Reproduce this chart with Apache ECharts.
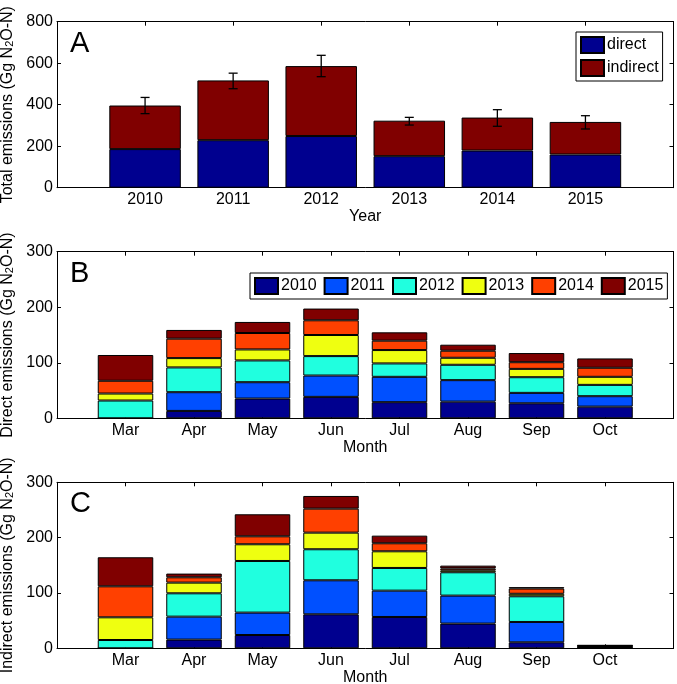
<!DOCTYPE html>
<html>
<head>
<meta charset="utf-8">
<script src="https://cdn.jsdelivr.net/npm/echarts@6/dist/echarts.min.js"></script>
<style>html,body{margin:0;padding:0;background:#fff;}#c{width:677px;height:684px;}</style>
</head>
<body>
<div id="c"></div>
<script>
// ---- Panel A data ----
const yearCats = ['2010', '2011', '2012', '2013', '2014', '2015'];
const totalDirect = [186, 229, 249, 152, 179, 160];
const totalIndirect = [210, 288, 337, 171, 159, 157];
const errLow = [357, 477, 535, 302, 296, 283];
const errHigh = [435, 552, 638, 339, 376, 347];
const yTicksA = [0, 200, 400, 600, 800];

// ---- Panel B/C data ----
const months = ['Mar', 'Apr', 'May', 'Jun', 'Jul', 'Aug', 'Sep', 'Oct'];
const seriesYears = ['2010', '2011', '2012', '2013', '2014', '2015'];
const direct2010 = [0, 13.3, 35.5, 38.6, 29, 30, 27, 21];
const direct2011 = [0, 33.7, 29.5, 38.4, 45.7, 38.7, 18.8, 18.8];
const direct2012 = [32, 44.6, 39.2, 35, 24.1, 27.7, 28.2, 20.4];
const direct2013 = [12.6, 16.8, 19.8, 38, 24.1, 12.6, 15, 14.5];
const direct2014 = [23, 35, 29.6, 26.5, 16.9, 12.7, 12, 16.3];
const direct2015 = [46.4, 15.7, 19.9, 21.1, 15, 10.8, 16.5, 16.8];
const indirect2010 = [0, 15.7, 24, 61.4, 56.6, 44.6, 10.8, 1];
const indirect2011 = [0, 41.5, 40.5, 61.5, 47.6, 50.6, 36.8, 1];
const indirect2012 = [15, 42.2, 93.3, 56.1, 41, 42.2, 46.4, 1];
const indirect2013 = [41, 19.3, 30.2, 30, 30.1, 3.5, 4.5, 1];
const indirect2014 = [56, 9.6, 14.4, 43.4, 14.5, 3.5, 9.5, 1];
const indirect2015 = [52.5, 6.7, 39.8, 22.9, 13.8, 5, 2.5, 0.5];
const yTicksBC = [0, 100, 200, 300];

const directByYear = [direct2010, direct2011, direct2012, direct2013, direct2014, direct2015];
const indirectByYear = [indirect2010, indirect2011, indirect2012, indirect2013, indirect2014, indirect2015];

const yearColors = ['#00008f', '#0050ff', '#20ffdf', '#efff10', '#ff4000', '#800000'];
const FONT = 'Liberation Sans, Arial, Helvetica, sans-serif';

// padded category lists: one empty slot at each end so the axis spans n+1 units
const catsA = [' '].concat(yearCats, ['  ']);
const catsM = [' '].concat(months, ['  ']);
const pad = arr => [null].concat(arr, [null]);

const chart = echarts.init(document.getElementById('c'), null, {renderer: 'canvas'});

const gridBase = {left: 57, right: 3.5, containLabel: false, outerBoundsMode: 'none'};
const grids = [
  Object.assign({top: 21.7, height: 166}, gridBase),
  Object.assign({top: 251.7, height: 166.6}, gridBase),
  Object.assign({top: 482.3, height: 166}, gridBase)
];

function xAx(gi, cats, pos, name) {
  return {
    type: 'category', gridIndex: gi, position: pos, data: cats, boundaryGap: false,
    axisLine: {show: true, onZero: false, lineStyle: {color: '#000', width: 1}},
    axisTick: {show: true, inside: true, length: 4, interval: 0, lineStyle: {color: '#000'}},
    axisLabel: {show: pos === 'bottom', interval: 0, color: '#000', fontSize: 16, fontFamily: FONT, margin: 4},
    splitLine: {show: false},
    name: pos === 'bottom' ? name : '',
    nameLocation: 'middle', nameGap: 20,
    nameTextStyle: {color: '#000', fontSize: 16, fontFamily: FONT}
  };
}
function yAx(gi, ticks, pos, name) {
  return {
    type: 'value', gridIndex: gi, position: pos, min: ticks[0], max: ticks[ticks.length - 1],
    interval: ticks[1] - ticks[0],
    axisLine: {show: true, lineStyle: {color: '#000', width: 1}},
    axisTick: {show: true, inside: true, length: 4, lineStyle: {color: '#000'}},
    axisLabel: {show: pos === 'left', color: '#000', fontSize: 16, fontFamily: FONT, margin: 4},
    splitLine: {show: false},
    name: pos === 'left' ? name : '',
    nameLocation: 'middle', nameGap: 38, nameRotate: 90,
    nameTextStyle: {
      color: '#000', fontFamily: FONT,
      rich: {
        a: {fontSize: 16, fontFamily: FONT, color: '#000'},
        s: {fontSize: 11, fontFamily: FONT, color: '#000', verticalAlign: 'bottom', lineHeight: 11, padding: [9, 0, 0, 0]}
      }
    }
  };
}

const xAxes = [
  xAx(0, catsA, 'bottom', 'Year'),
  xAx(0, catsA, 'top', ''),
  xAx(1, catsM, 'bottom', 'Month'),
  xAx(1, catsM, 'top', ''),
  xAx(2, catsM, 'bottom', 'Month'),
  xAx(2, catsM, 'top', '')
];
const yAxes = [
  yAx(0, yTicksA, 'left', '{a|Total emissions (Gg N}{s|2}{a|O-N)}'),
  yAx(0, yTicksA, 'right', ''),
  yAx(1, yTicksBC, 'left', '{a|Direct emissions (Gg N}{s|2}{a|O-N)}'),
  yAx(1, yTicksBC, 'right', ''),
  yAx(2, yTicksBC, 'left', '{a|Indirect emissions (Gg N}{s|2}{a|O-N)}'),
  yAx(2, yTicksBC, 'right', '')
];

const series = [];
series.push({
  name: 'direct', type: 'bar', xAxisIndex: 0, yAxisIndex: 0, stack: 'A', barWidth: 71.5,
  itemStyle: {color: '#00008f', borderColor: '#000', borderWidth: 1},
  data: pad(totalDirect)
});
series.push({
  name: 'indirect', type: 'bar', xAxisIndex: 0, yAxisIndex: 0, stack: 'A', barWidth: 71.5,
  itemStyle: {color: '#800000', borderColor: '#000', borderWidth: 1},
  data: pad(totalIndirect)
});
series.push({
  name: 'err', type: 'custom', xAxisIndex: 0, yAxisIndex: 0, z: 10,
  encode: {x: 0, y: [1, 2]},
  data: yearCats.map((y, i) => [i + 1, errLow[i], errHigh[i]]),
  renderItem: function (params, api) {
    const x = api.value(0);
    const p1 = api.coord([x, api.value(1)]);
    const p2 = api.coord([x, api.value(2)]);
    const hw = 4.5;
    const st = {stroke: '#000', lineWidth: 1.3};
    return {type: 'group', children: [
      {type: 'line', shape: {x1: p1[0], y1: p1[1], x2: p2[0], y2: p2[1]}, style: st},
      {type: 'line', shape: {x1: p1[0] - hw, y1: p1[1], x2: p1[0] + hw, y2: p1[1]}, style: st},
      {type: 'line', shape: {x1: p2[0] - hw, y1: p2[1], x2: p2[0] + hw, y2: p2[1]}, style: st}
    ]};
  }
});
seriesYears.forEach((yr, k) => {
  series.push({
    name: yr, type: 'bar', xAxisIndex: 2, yAxisIndex: 2, stack: 'B', barWidth: 55.5,
    itemStyle: {color: yearColors[k], borderColor: '#000', borderWidth: 1},
    data: pad(directByYear[k])
  });
});
seriesYears.forEach((yr, k) => {
  series.push({
    name: yr, type: 'bar', xAxisIndex: 4, yAxisIndex: 4, stack: 'C', barWidth: 55.5,
    itemStyle: {color: yearColors[k], borderColor: '#000', borderWidth: 1},
    data: pad(indirectByYear[k])
  });
});

const legendText = {color: '#000', fontSize: 16, fontFamily: FONT, padding: [0, 0, 0, -2]};
const option = {
  animation: false,
  backgroundColor: '#fff',
  grid: grids,
  xAxis: xAxes,
  yAxis: yAxes,
  legend: [
    {
      data: ['direct', 'indirect'], orient: 'vertical', left: 576, top: 32,
      itemWidth: 23, itemHeight: 16, itemGap: 5, padding: [4, 4, 4, 4],
      borderColor: '#000', borderWidth: 1, selectedMode: false, icon: 'rect',
      textStyle: legendText
    },
    {
      data: seriesYears, orient: 'horizontal', left: 250, top: 273,
      itemWidth: 23, itemHeight: 16, itemGap: 7, padding: [4, 4, 4, 4],
      borderColor: '#000', borderWidth: 1, selectedMode: false, icon: 'rect',
      textStyle: legendText
    }
  ],
  graphic: [
    {type: 'text', left: 70, top: 29, style: {text: 'A', fontSize: 29, fontFamily: FONT, fill: '#000'}},
    {type: 'text', left: 70, top: 259, style: {text: 'B', fontSize: 29, fontFamily: FONT, fill: '#000'}},
    {type: 'text', left: 70, top: 489, style: {text: 'C', fontSize: 29, fontFamily: FONT, fill: '#000'}}
  ],
  series: series
};
chart.setOption(option);
</script>
</body>
</html>
